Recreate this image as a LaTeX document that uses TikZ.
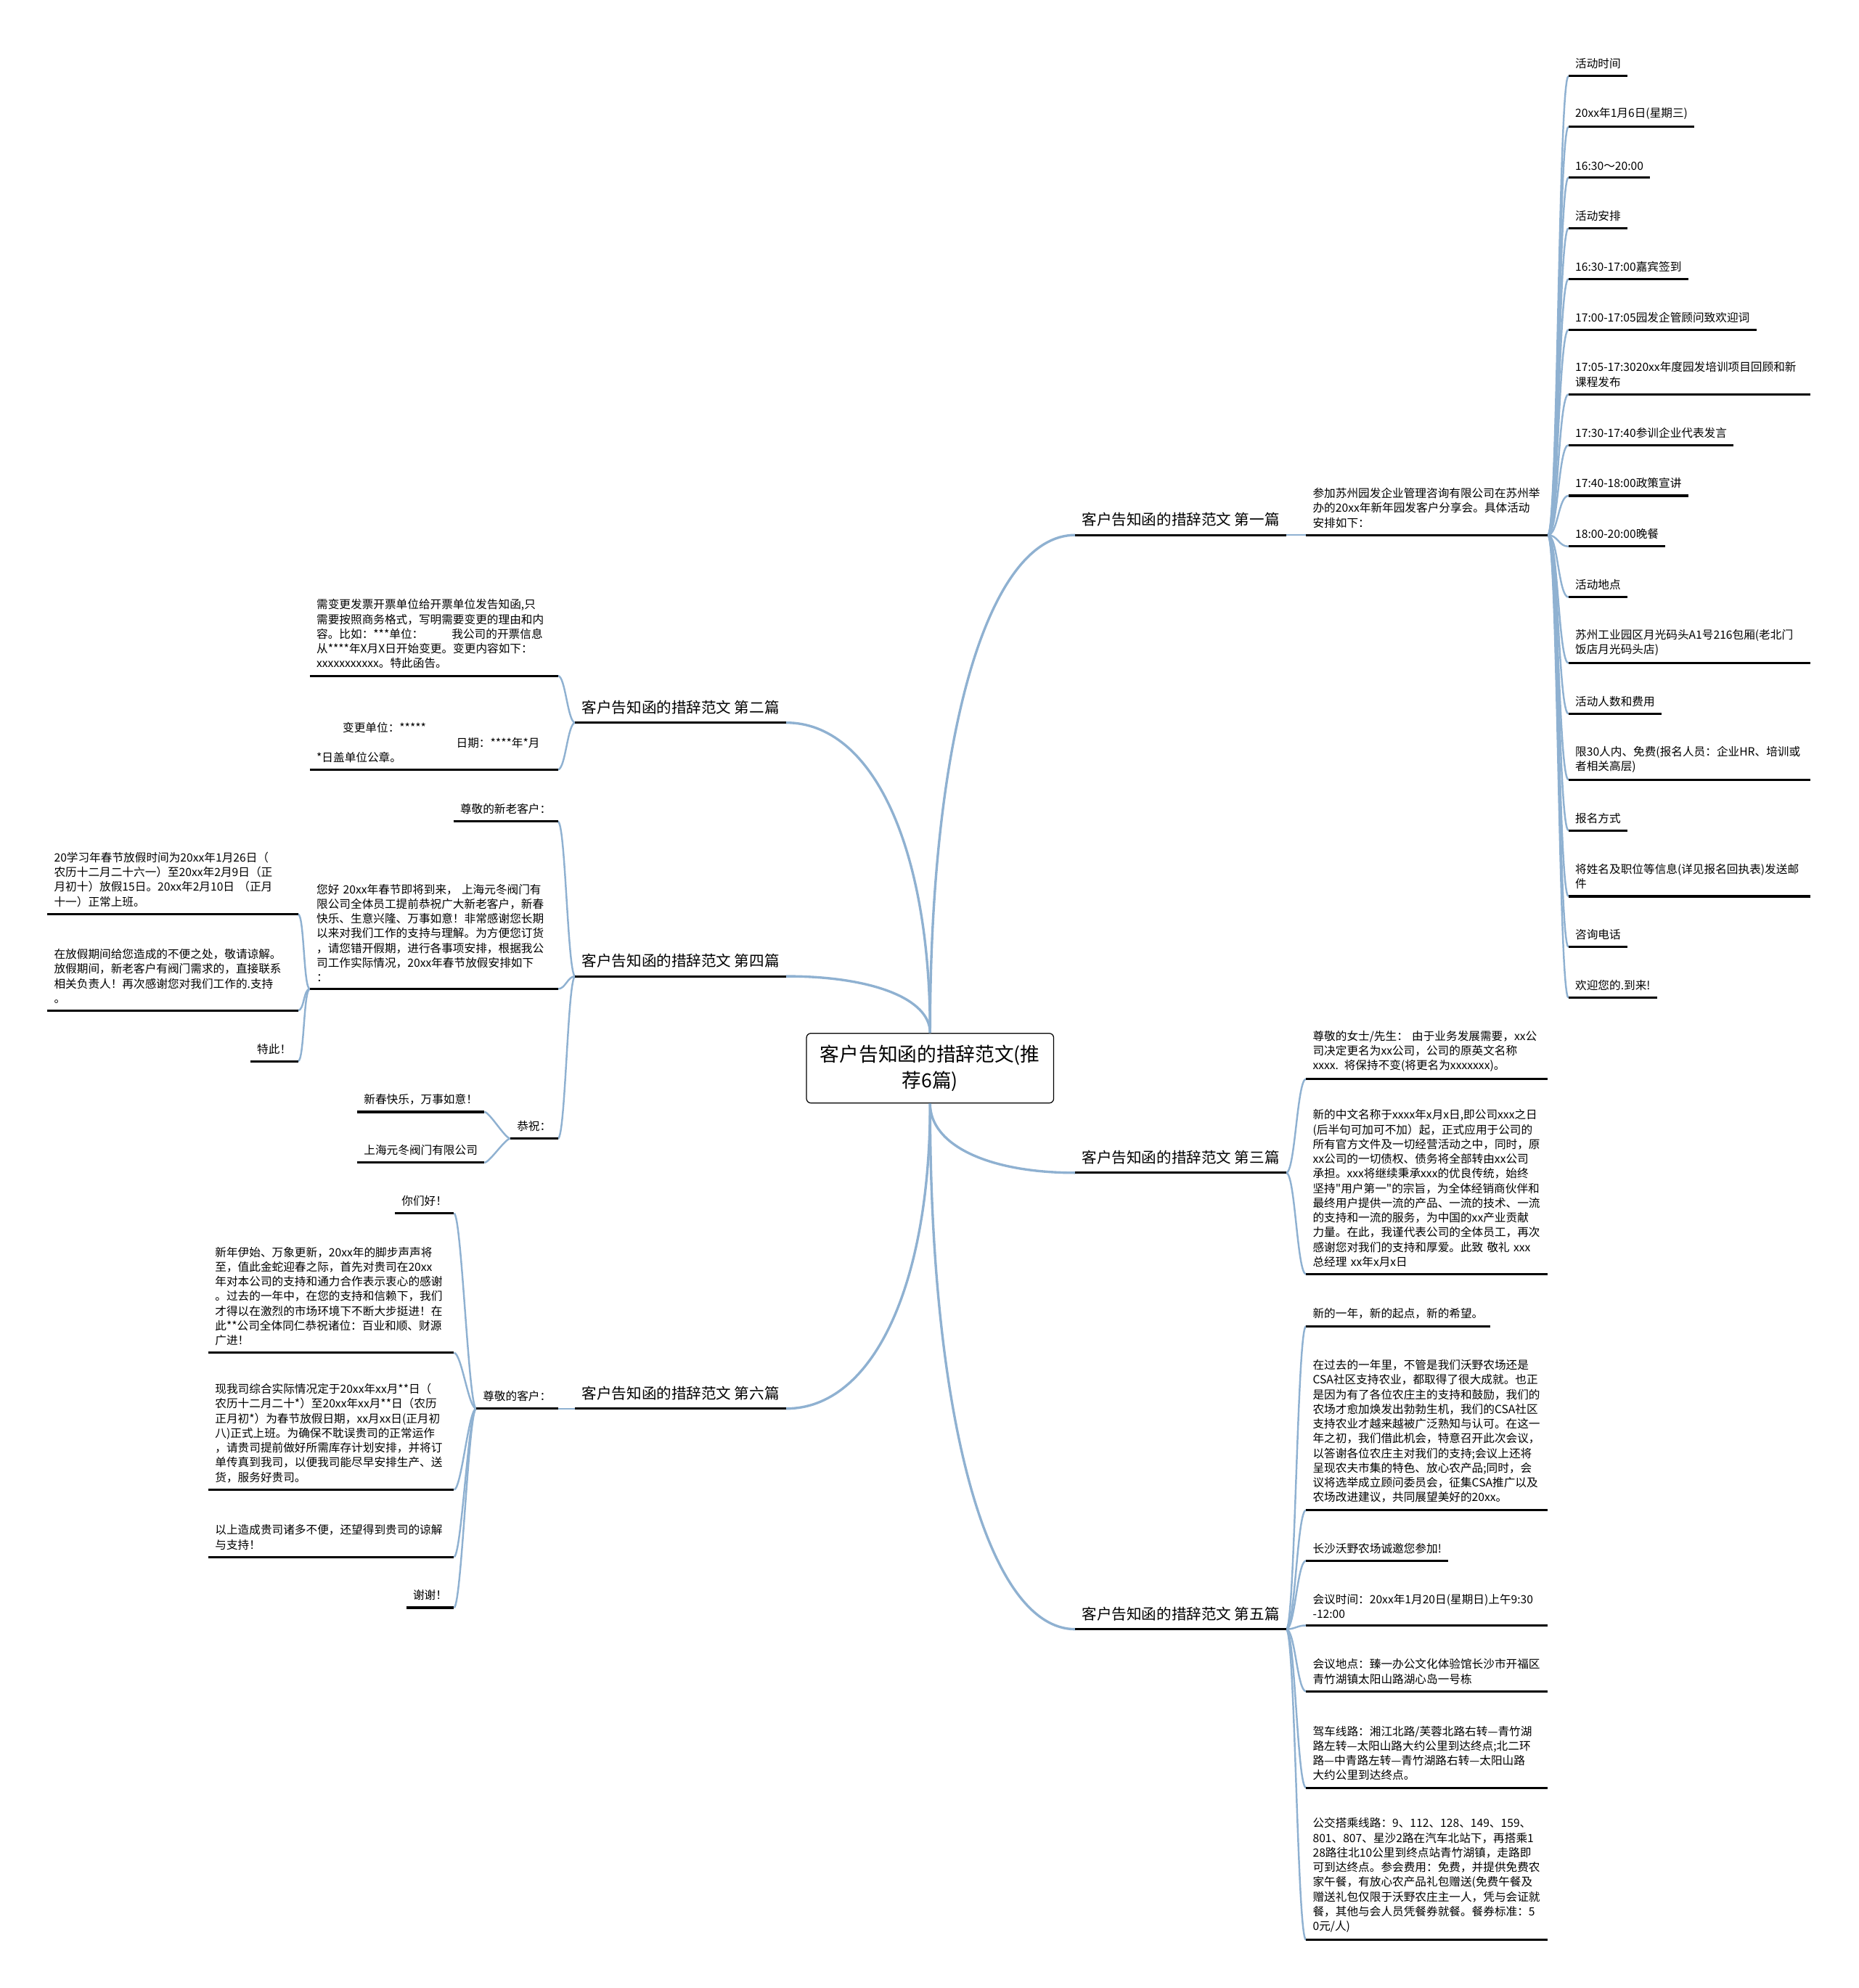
\documentclass[tikz,border=0pt]{standalone}
\usepackage{fontspec}
\setmainfont{Noto Sans CJK SC}[Ligatures=TeXOff]
\usetikzlibrary{calc}
\definecolor{linkblue}{RGB}{143,177,209}
\newcommand\leaffont{\fontsize{5.1}{6.6}\selectfont}
\newcommand\titlefont{\fontsize{6.7}{8}\selectfont}
\newcommand\rootfont{\fontsize{8.7}{11.9}\selectfont}
\tikzset{
  leaf/.style={font=\leaffont, align=left, inner xsep=0.1cm, inner ysep=3pt},
  leafR/.style={leaf, anchor=south west},
  leafL/.style={leaf, anchor=south east},
  branch/.style={font=\titlefont, inner xsep=0.1cm, inner ysep=3.6pt},
  uline/.style={draw=black, line width=1pt},
  link/.style={draw=linkblue, line width=0.8pt},
  rootlink/.style={draw=linkblue, line width=1.1pt},
}

\begin{document}
\begin{tikzpicture}[x=0.02cm, y=-0.02cm]
  \useasboundingbox (0,0) rectangle (1466,1568);

  %% --- ROOT ---
  \node[draw=black, rounded corners=2pt, minimum width=3.9cm, minimum height=1.1cm, align=center, font=\rootfont] (root) at (733.5,842.5) {客户告知函的措辞范文(推\\荐6篇)};

  %% --- BRANCH TITLES ---
  \node[branch, anchor=south west] (t1) at (848,422)  {客户告知函的措辞范文 第一篇};
  \node[branch, anchor=south west] (t3) at (848,925)  {客户告知函的措辞范文 第三篇};
  \node[branch, anchor=south west] (t5) at (848,1285) {客户告知函的措辞范文 第五篇};
  \node[branch, anchor=south east] (t2) at (620,570)  {客户告知函的措辞范文 第二篇};
  \node[branch, anchor=south east] (t4) at (620,770)  {客户告知函的措辞范文 第四篇};
  \node[branch, anchor=south east] (t6) at (620,1111) {客户告知函的措辞范文 第六篇};

  \foreach \t/\a/\b in {t1/north/south west, t2/north/south east, t3/south/south west,
                        t4/north/south east, t5/south/south west, t6/south/south east} {
    \coordinate (k) at (root.\a |- \t.\b);
    \draw[rootlink] (root.\a) .. controls ($(root.\a)!0.6!(k)$) and ($(\t.\b)!0.6!(k)$) .. (\t.\b);
  }

  %% --- FIRST ---
  \node[leafR, text width=3.6cm] (a1) at (1030,422) {参加苏州园发企业管理咨询有限公司在苏州举\\办的20xx年新年园发客户分享会。具体活动\\安排如下：};
  \node[leafR] (l1)  at (1237,60)  {活动时间};
  \node[leafR] (l2)  at (1237,100) {20xx年1月6日(星期三)};
  \node[leafR] (l3)  at (1237,140) {16:30～20:00};
  \node[leafR] (l4)  at (1237,180) {活动安排};
  \node[leafR] (l5)  at (1237,220) {16:30-17:00嘉宾签到};
  \node[leafR] (l6)  at (1237,260) {17:00-17:05园发企管顾问致欢迎词};
  \node[leafR, text width=3.6cm] (l7)  at (1237,311) {17:05-17:3020xx年度园发培训项目回顾和新\\课程发布};
  \node[leafR] (l8)  at (1237,351) {17:30-17:40参训企业代表发言};
  \node[leafR] (l9)  at (1237,391) {17:40-18:00政策宣讲};
  \node[leafR] (l10) at (1237,431) {18:00-20:00晚餐};
  \node[leafR] (l11) at (1237,471) {活动地点};
  \node[leafR, text width=3.6cm] (l12) at (1237,523) {苏州工业园区月光码头A1号216包厢(老北门\\饭店月光码头店)};
  \node[leafR] (l13) at (1237,563) {活动人数和费用};
  \node[leafR, text width=3.6cm] (l14) at (1237,615) {限30人内、免费(报名人员：企业HR、培训或\\者相关高层)};
  \node[leafR] (l15) at (1237,655) {报名方式};
  \node[leafR, text width=3.6cm] (l16) at (1237,707) {将姓名及职位等信息(详见报名回执表)发送邮\\件};
  \node[leafR] (l17) at (1237,747) {咨询电话};
  \node[leafR] (l18) at (1237,787) {欢迎您的.到来!};

  \draw[link] (t1.south east) -- (a1.south west);
  \foreach \i in {1,...,18}
    \draw[link] (a1.south east) .. controls +(8,0) and +(-8,0) .. (l\i.south west);

  %% --- THIRD ---
  \node[leafR, text width=3.6cm] (c3a) at (1030,851) {尊敬的女士/先生： 由于业务发展需要，xx公\\司决定更名为xx公司，公司的原英文名称\\xxxx. 将保持不变(将更名为xxxxxxx)。};
  \node[leafR, text width=3.6cm] (c3b) at (1030,1005) {新的中文名称于xxxx年x月x日,即公司xxx之日\\(后半句可加可不加）起，正式应用于公司的\\所有官方文件及一切经营活动之中，同时，原\\xx公司的一切债权、债务将全部转由xx公司\\承担。xxx将继续秉承xxx的优良传统，始终\\坚持"用户第一"的宗旨，为全体经销商伙伴和\\最终用户提供一流的产品、一流的技术、一流\\的支持和一流的服务，为中国的xx产业贡献\\力量。在此，我谨代表公司的全体员工，再次\\感谢您对我们的支持和厚爱。此致 敬礼 xxx\\总经理 xx年x月x日};

  \foreach \c in {c3a,c3b}
    \draw[link] (t3.south east) .. controls +(7,0) and +(-7,0) .. (\c.south west);

  %% --- FIFTH ---
  \node[leafR] (c5a) at (1030,1046) {新的一年，新的起点，新的希望。};
  \node[leafR, text width=3.6cm] (c5b) at (1030,1191) {在过去的一年里，不管是我们沃野农场还是\\CSA社区支持农业，都取得了很大成就。也正\\是因为有了各位农庄主的支持和鼓励，我们的\\农场才愈加焕发出勃勃生机，我们的CSA社区\\支持农业才越来越被广泛熟知与认可。在这一\\年之初，我们借此机会，特意召开此次会议，\\以答谢各位农庄主对我们的支持;会议上还将\\呈现农夫市集的特色、放心农产品;同时，会\\议将选举成立顾问委员会，征集CSA推广以及\\农场改进建议，共同展望美好的20xx。};
  \node[leafR] (c5c) at (1030,1231) {长沙沃野农场诚邀您参加!};
  \node[leafR, text width=3.6cm] (c5d) at (1030,1282) {会议时间：20xx年1月20日(星期日)上午9:30\\-12:00};
  \node[leafR, text width=3.6cm] (c5e) at (1030,1334) {会议地点：臻一办公文化体验馆长沙市开福区\\青竹湖镇太阳山路湖心岛一号栋};
  \node[leafR, text width=3.6cm] (c5f) at (1030,1410) {驾车线路：湘江北路/芙蓉北路右转—青竹湖\\路左转—太阳山路大约公里到达终点;北二环\\路—中青路左转—青竹湖路右转—太阳山路\\大约公里到达终点。};
  \node[leafR, text width=3.6cm] (c5g) at (1030,1530) {公交搭乘线路：9、112、128、149、159、\\801、807、星沙2路在汽车北站下，再搭乘1\\28路往北10公里到终点站青竹湖镇，走路即\\可到达终点。参会费用：免费，并提供免费农\\家午餐，有放心农产品礼包赠送(免费午餐及\\赠送礼包仅限于沃野农庄主一人，凭与会证就\\餐，其他与会人员凭餐券就餐。餐券标准：5\\0元/人)};

  \foreach \c in {c5a,c5b,c5c,c5d,c5e,c5f,c5g}
    \draw[link] (t5.south east) .. controls +(7,0) and +(-7,0) .. (\c.south west);

  %% --- SECOND ---
  \node[leafL, text width=3.7cm] (c2a) at (440,533) {需变更发票开票单位给开票单位发告知函,只\\需要按照商务格式，写明需要变更的理由和内\\容。比如：***单位：\hspace{2.5em}我公司的开票信息\\从****年X月X日开始变更。变更内容如下：\\xxxxxxxxxxx。特此函告。};
  \node[leafL, text width=3.7cm] (c2b) at (440,607) {\hspace*{2.3em}变更单位：*****\\\hspace*{12.3em}日期：****年*月\\{*}日盖单位公章。};

  \foreach \c in {c2a,c2b}
    \draw[link] (t2.south west) .. controls +(-6,0) and +(6,0) .. (\c.south east);

  %% --- FOURTH ---
  \node[leafL] (c4a) at (440,648) {尊敬的新老客户：};
  \node[leafL, text width=3.7cm] (c4b) at (440,780) {您好 20xx年春节即将到来， 上海元冬阀门有\\限公司全体员工提前恭祝广大新老客户，新春\\快乐、生意兴隆、万事如意！非常感谢您长期\\以来对我们工作的支持与理解。为方便您订货\\，请您错开假期，进行各事项安排，根据我公\\司工作实际情况，20xx年春节放假安排如下\\：};
  \node[leafL] (c4c) at (440,898) {恭祝：};

  \node[leafL, text width=3.74cm] (g1) at (235,721) {20学习年春节放假时间为20xx年1月26日（\\农历十二月二十六一）至20xx年2月9日（正\\月初十）放假15日。20xx年2月10日 （正月\\十一）正常上班。};
  \node[leafL, text width=3.74cm] (g2) at (235,797) {在放假期间给您造成的不便之处，敬请谅解。\\放假期间，新老客户有阀门需求的，直接联系\\相关负责人！再次感谢您对我们工作的.支持\\。};
  \node[leafL] (g3) at (235,837) {特此！};

  \node[leafL] (h1) at (382,877) {新春快乐，万事如意！};
  \node[leafL] (h2) at (382,917) {上海元冬阀门有限公司};

  \foreach \c in {c4a,c4b,c4c}
    \draw[link] (t4.south west) .. controls +(-6,0) and +(6,0) .. (\c.south east);
  \foreach \c in {g1,g2,g3}
    \draw[link] (c4b.south west) .. controls +(-5,0) and +(5,0) .. (\c.south east);
  \foreach \c in {h1,h2}
    \draw[link] (c4c.south west) .. controls +(-4,0) and +(4,0) .. (\c.south east);

  %% --- SIXTH ---
  \node[leafL] (c6) at (440,1111) {尊敬的客户：};
  \node[leafL] (k1) at (358,957) {你们好！};
  \node[leafL, text width=3.66cm] (k2) at (358,1067) {新年伊始、万象更新，20xx年的脚步声声将\\至，值此金蛇迎春之际，首先对贵司在20xx\\年对本公司的支持和通力合作表示衷心的感谢\\。过去的一年中，在您的支持和信赖下，我们\\才得以在激烈的市场环境下不断大步挺进！在\\此**公司全体同仁恭祝诸位：百业和顺、财源\\广进！};
  \node[leafL, text width=3.66cm] (k3) at (358,1175) {现我司综合实际情况定于20xx年xx月**日（\\农历十二月二十*）至20xx年xx月**日（农历\\正月初*）为春节放假日期，xx月xx日(正月初\\八)正式上班。为确保不耽误贵司的正常运作\\，请贵司提前做好所需库存计划安排，并将订\\单传真到我司，以便我司能尽早安排生产、送\\货，服务好贵司。};
  \node[leafL, text width=3.66cm] (k4) at (358,1228) {以上造成贵司诸多不便，还望得到贵司的谅解\\与支持！};
  \node[leafL] (k5) at (358,1268) {谢谢！};

  \draw[link] (t6.south west) -- (c6.south east);
  \foreach \c in {k1,k2,k3,k4,k5}
    \draw[link] (c6.south west) .. controls +(-6,0) and +(6,0) .. (\c.south east);

  %% --- UNDERLINES ---
  \foreach \n in {t1,t2,t3,t4,t5,t6,a1,c3a,c3b,c5a,c5b,c5c,c5d,c5e,c5f,c5g,
                  c2a,c2b,c4a,c4b,c4c,g1,g2,g3,h1,h2,c6,k1,k2,k3,k4,k5}
    \draw[uline] (\n.south west) -- (\n.south east);
  \foreach \i in {1,...,18}
    \draw[uline] (l\i.south west) -- (l\i.south east);
\end{tikzpicture}
\end{document}
